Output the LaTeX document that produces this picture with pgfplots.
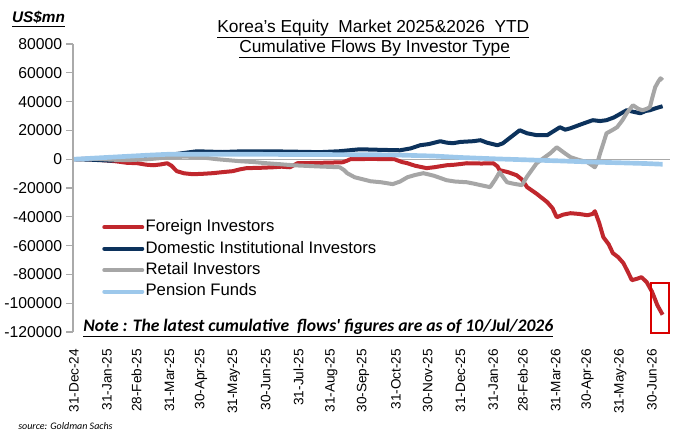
\documentclass[border=0pt]{standalone}
\usepackage{pgfplots}
\usepackage{pgfplotstable}
\pgfplotsset{compat=1.18}
\usepackage{fontspec}
\setmainfont{Liberation Sans}
\newfontfamily\carlito{Carlito}
\definecolor{fgn}{RGB}{192,39,45}
\definecolor{dom}{RGB}{12,50,92}
\definecolor{ret}{RGB}{166,166,166}
\definecolor{pen}{RGB}{157,200,235}
\definecolor{axg}{RGB}{170,170,170}

\pgfplotstableread{
d v
0 0
10 200
20 -300
30 -800
40 -1500
50 -2500
60 -2800
68 -3800
75 -4200
82 -3600
88 -2800
92 -4500
97 -8300
104 -9800
112 -10400
120 -10200
131 -9700
140 -9000
150 -8300
157 -7000
163 -6200
175 -6000
188 -5600
196 -5200
204 -5600
208 -4000
211 -2800
225 -2600
240 -2400
254 -2100
258 -1000
261 0
280 200
303 0
305 -700
310 -2000
315 -2800
322 -4500
333 -6200
340 -5600
352 -4200
360 -3800
371 -2800
385 -3000
396 -2800
400 -5000
402 -7600
410 -9000
418 -11100
423 -14000
428 -19400
437 -24000
447 -29800
452 -34000
456 -40300
462 -38500
469 -37500
477 -38000
485 -38900
490 -38000
492 -36100
496 -44000
500 -54100
505 -59000
509 -65200
514 -68000
519 -72200
523 -78000
527 -84000
532 -83000
536 -81900
541 -85400
546 -92000
551 -101300
553 -104000
556 -108000
}\foreign

\pgfplotstableread{
d v
0 0
15 -300
34 -1000
50 0
70 1500
90 3000
116 5500
140 5000
160 5500
185 5500
210 5200
232 4900
250 5500
270 6900
290 6500
308 6200
318 7500
327 9700
335 10500
346 12500
352 11500
358 11100
365 12000
377 12500
384 13200
390 11500
400 9700
405 11000
412 15000
421 20100
428 18000
437 16700
447 16700
452 19000
459 22200
464 20500
469 21500
480 24500
490 27100
497 26500
503 27100
510 29000
516 31500
522 34000
528 33000
535 31900
540 33500
544 34000
550 35500
556 36800
}\domestic

\pgfplotstableread{
d v
0 0
20 300
35 -300
50 -700
70 0
91 1400
105 1800
119 1400
135 0
157 -1400
170 -2000
182 -2800
195 -3500
207 -4200
230 -5000
251 -5600
255 -7500
258 -9700
265 -12500
280 -15300
290 -16000
301 -17300
308 -15500
315 -12500
322 -11000
330 -9700
340 -11500
352 -14600
360 -15500
371 -16000
378 -17000
384 -18000
393 -19400
398 -14000
402 -9000
406 -13000
409 -16000
415 -17000
423 -18000
428 -12000
437 -2800
444 1000
450 4200
456 8300
462 5000
469 1400
477 -500
485 -2100
492 -5600
495 -1000
497 4200
500 11000
503 18000
508 20000
513 22200
518 27000
522 31900
528 37500
533 35000
537 34000
541 35000
544 36100
546 42000
549 50000
552 54000
554 56200
556 54800
}\retail

\pgfplotstableread{
d v
0 0
20 800
45 1800
70 2800
91 3500
150 3500
200 3300
250 3200
300 3000
340 2200
365 1200
400 200
430 -500
460 -1200
490 -2000
516 -2500
540 -3000
556 -3500
}\pension

\begin{document}
\begin{tikzpicture}
\path[use as bounding box] (0,0) rectangle (510pt,-327.75pt);
\begin{axis}[
  at={(54.75pt,-33pt)}, anchor=north west,
  scale only axis, width=447.75pt, height=216pt,
  xmin=-1, xmax=563, ymin=-120000, ymax=80000,
  clip=false,
  scaled y ticks=false,
  axis lines*=left,
  axis line style={-},
  x axis line style={draw=none},
  y axis line style={draw=axg, line width=0.8pt},
  xtick style={draw=none},
  ytick style={draw=axg, line width=0.8pt},
  tick align=outside,
  major tick length=5pt,
  ytick={-120000,-100000,-80000,-60000,-40000,-20000,0,20000,40000,60000,80000},
  yticklabels={-120000,-100000,-80000,-60000,-40000,-20000,0,20000,40000,60000,80000},
  yticklabel style={font=\fontsize{11.8}{12}\selectfont, inner sep=0pt, anchor=east, xshift=-3pt},
  xtick={0,31,59,90,120,151,181,212,243,273,304,334,365,396,424,455,485,516,546},
  xticklabels={31-Dec-24,31-Jan-25,28-Feb-25,31-Mar-25,30-Apr-25,31-May-25,30-Jun-25,31-Jul-25,31-Aug-25,30-Sep-25,31-Oct-25,30-Nov-25,31-Dec-25,31-Jan-26,28-Feb-26,31-Mar-26,30-Apr-26,31-May-26,30-Jun-26},
  xticklabel style={font=\fontsize{10.2}{11}\selectfont, rotate=90, anchor=east, inner sep=0pt},
  xticklabel shift=7.5pt,
  legend style={at={(0.0486,0.396)}, anchor=north west, draw=none, fill=none,
    font=\fontsize{12.5}{14}\selectfont, inner sep=0pt, row sep=2.6pt,
    nodes={inner sep=1pt, text height=9pt, text depth=2.5pt}},
  legend cell align=left,
  legend image code/.code={\draw[#1, line width=3pt, line cap=round] (0pt,0pt) -- (28.5pt,0pt);},
]
\draw[axg, line width=0.8pt] (axis cs:-1,0) -- (axis cs:563,0);
\addplot[fgn, line width=3pt, line join=round] table[x=d,y=v] {\foreign};
\addlegendentry{Foreign Investors}
\addplot[dom, line width=3pt, line join=round] table[x=d,y=v] {\domestic};
\addlegendentry{Domestic Institutional Investors}
\addplot[ret, line width=3pt, line join=round] table[x=d,y=v] {\retail};
\addlegendentry{Retail Investors}
\addplot[pen, line width=3.5pt, line join=round] table[x=d,y=v] {\pension};
\addlegendentry{Pension Funds}
\draw[red!85!black, line width=1pt] (axis cs:545,-86000) rectangle (axis cs:562,-120800);
\end{axis}
\node[anchor=center, font=\fontsize{11.5}{12}\selectfont\bfseries\itshape] at (28.9pt,-14.25pt) {\underline{US\$mn}};
\node[anchor=base, inner sep=0pt, font=\fontsize{13}{15}\selectfont] at (280pt,-24pt)
  {\underline{Korea's Equity\ \ Market 2025\&2026\ \ YTD}};
\node[anchor=base, inner sep=0pt, font=\fontsize{13}{15}\selectfont] at (281pt,-39pt)
  {\underline{Cumulative Flows By Investor Type}};
\node[anchor=base west, inner sep=0pt, font=\carlito\fontsize{13.2}{14}\selectfont\bfseries\itshape] at (62.25pt,-248.25pt)
  {\underline{Note : The latest cumulative\ \ flows' figures are as of 10/Jul/2026}};
\node[anchor=base west, inner sep=0pt, font=\carlito\fontsize{7.5}{8}\selectfont\itshape] at (13.5pt,-321.75pt) {source: Goldman Sachs};
\end{tikzpicture}
\end{document}
